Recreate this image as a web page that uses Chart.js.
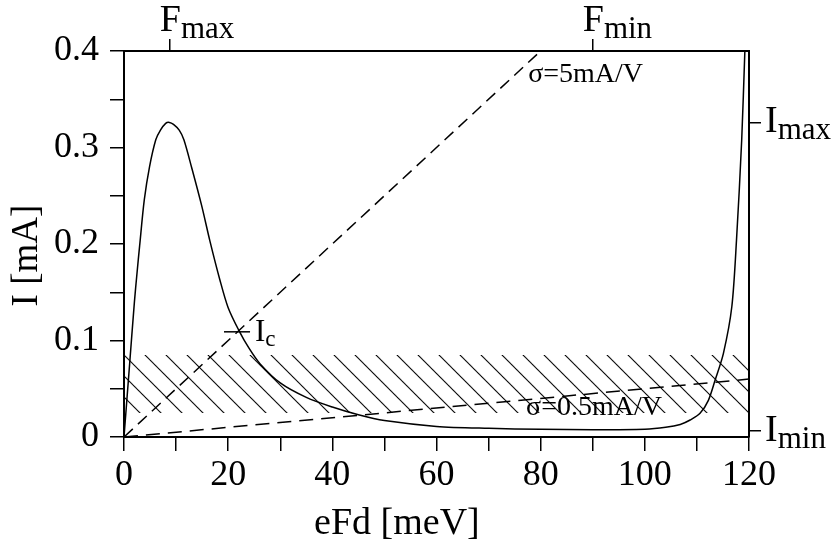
<!DOCTYPE html>
<html>
<head>
<meta charset="utf-8">
<script src="https://cdn.jsdelivr.net/npm/chart.js@4.4.0/dist/chart.umd.min.js"></script>
<style>
  html, body { margin: 0; padding: 0; background: #fff; }
  #wrap { width: 831px; height: 544px; }
</style>
</head>
<body>
<div id="wrap"><canvas id="ivChart"></canvas></div>
<script>
// I-V curve: current I [mA] against eFd [meV]
var curveX = [0, 1, 2, 2.5, 3, 3.9, 4.9, 6.1, 7, 8, 8.7, 9.5, 10.6, 11.5, 13, 14.9, 16.5, 18.4, 20, 22.1, 24, 26.1, 30, 35, 40, 45, 50, 60, 70, 80, 90, 100, 104, 106.8, 108.7, 110.6, 112.2, 113.5, 115.1, 116.7, 117.6, 118.6, 119.2, 119.5];
var curveY = [0, 0.07, 0.14, 0.17, 0.198, 0.246, 0.28, 0.308, 0.318, 0.325, 0.326, 0.324, 0.318, 0.308, 0.279, 0.24, 0.203, 0.163, 0.134, 0.11, 0.092, 0.076, 0.056, 0.041, 0.031, 0.023, 0.017, 0.011, 0.009, 0.008, 0.0075, 0.008, 0.01, 0.013, 0.0176, 0.0245, 0.038, 0.059, 0.087, 0.135, 0.204, 0.308, 0.399, 0.44];

// ohmic load lines
var sigmaHighX = [0, 80];
var sigmaHighY = [0, 0.4];
var sigmaLowX = [0, 120];
var sigmaLowY = [0, 0.06];

// hatched band
var bandX = [0, 120];
var bandTop = 0.085;
var bandBottom = 0.025;

// I_c marker
var icX = [19.2, 24.2];
var icY = [0.109, 0.109];

// axis ticks
var xTickLabels = ['0', '20', '40', '60', '80', '100', '120'];
var yTickLabels = ['0', '0.1', '0.2', '0.3', '0.4'];
var topTickValues = [8.8, 90];
var topTickLabels = [['F', 'max'], ['F', 'min']];
var rightTickValues = [0.326, 0.006];
var rightTickLabels = [['I', 'max'], ['I', 'min']];

var serif = '"Liberation Serif", "Times New Roman", serif';

function pts(xs, ys) {
    return xs.map(function (x, i) { return { x: x, y: ys[i] }; });
}

// hatch pattern, aligned to the band in a plugin
var tile = document.createElement('canvas');
var P = 21;
tile.width = P; tile.height = P;
var tctx = tile.getContext('2d');
tctx.strokeStyle = '#000';
tctx.lineWidth = 1.1;
for (var k = -1; k <= 1; k++) {
    tctx.beginPath();
    tctx.moveTo(k * P - 2, -2);
    tctx.lineTo(k * P + P + 2, P + 2);
    tctx.stroke();
}
var hatch = tctx.createPattern(tile, 'repeat');

function drawSub(ctx, main, sub, x, y, mainSize, subSize, drop) {
    ctx.font = mainSize + 'px ' + serif;
    ctx.fillText(main, x, y);
    var w = ctx.measureText(main).width;
    ctx.font = subSize + 'px ' + serif;
    ctx.fillText(sub, x + w, y + drop);
}

var textPlugin = {
    id: 'textPlugin',
    beforeDatasetsDraw: function (chart) {
        var xs = chart.scales.x, ys = chart.scales.y;
        hatch.setTransform(new DOMMatrix([1, 0, 0, 1, xs.getPixelForValue(0), ys.getPixelForValue(bandTop)]));
    },
    afterDraw: function (chart) {
        var ctx = chart.ctx;
        var area = chart.chartArea;
        var xs = chart.scales.x, ys = chart.scales.y;
        var xt = chart.scales.x2, yr = chart.scales.y2;
        ctx.save();
        ctx.fillStyle = '#000';
        ctx.textAlign = 'left';
        ctx.textBaseline = 'alphabetic';

        // axis titles
        ctx.font = '38px ' + serif;
        ctx.textAlign = 'center';
        ctx.fillText('eFd [meV]', xs.getPixelForValue(52.4), area.bottom + 97);
        ctx.save();
        ctx.font = '37px ' + serif;
        ctx.translate(area.left - 87, ys.getPixelForValue(0.188));
        ctx.rotate(-Math.PI / 2);
        ctx.fillText('I [mA]', 0, 0);
        ctx.restore();
        ctx.textAlign = 'left';

        // top axis labels
        topTickValues.forEach(function (v, i) {
            drawSub(ctx, topTickLabels[i][0], topTickLabels[i][1], xt.getPixelForValue(v) - 10, area.top - 20, 38, 31, 7);
        });
        // right axis labels
        rightTickValues.forEach(function (v, i) {
            drawSub(ctx, rightTickLabels[i][0], rightTickLabels[i][1], area.right + 16, yr.getPixelForValue(v) + 10, 38, 31, 7);
        });
        // I_c
        drawSub(ctx, 'I', 'c', xs.getPixelForValue(icX[1]) + 5, ys.getPixelForValue(icY[1]) + 9, 31, 23, 5);

        // load line labels
        ctx.font = '28px ' + serif;
        ctx.fillText('σ=5mA/V', xs.getPixelForValue(77.6), ys.getPixelForValue(0.368));
        ctx.fillText('σ=0.5mA/V', xs.getPixelForValue(77.2), ys.getPixelForValue(0.0228));
        ctx.restore();
    }
};

var axisGrid = { drawOnChartArea: false, color: '#000', lineWidth: 1.5, tickLength: 14 };
var axisBorder = { display: true, color: '#000', width: 2 };
var tickFont = { family: serif, size: 36 };

var ivChart = new Chart(document.getElementById('ivChart').getContext('2d'), {
    type: 'line',
    data: {
        datasets: [
            {
                label: 'I',
                data: pts(curveX, curveY),
                borderColor: '#000',
                borderWidth: 1.5,
                pointRadius: 0,
                tension: 0.3,
                fill: false,
                order: 1
            },
            {
                label: 'sigma 5',
                data: pts(sigmaHighX, sigmaHighY),
                borderColor: '#000',
                borderWidth: 1.5,
                borderDash: [12, 7],
                pointRadius: 0,
                fill: false,
                order: 2
            },
            {
                label: 'sigma 0.5',
                data: pts(sigmaLowX, sigmaLowY),
                borderColor: '#000',
                borderWidth: 1.5,
                borderDash: [14, 8],
                pointRadius: 0,
                fill: false,
                order: 3
            },
            {
                label: 'Ic',
                data: pts(icX, icY),
                borderColor: '#000',
                borderWidth: 1.5,
                pointRadius: 0,
                fill: false,
                order: 4
            },
            {
                label: 'band',
                data: pts(bandX, [bandTop, bandTop]),
                borderWidth: 0,
                borderColor: 'rgba(0,0,0,0)',
                backgroundColor: hatch,
                pointRadius: 0,
                fill: { value: bandBottom },
                order: 5
            }
        ]
    },
    options: {
        responsive: true,
        maintainAspectRatio: false,
        animation: false,
        layout: { padding: 0 },
        plugins: {
            legend: { display: false },
            tooltip: { enabled: false }
        },
        scales: {
            x: {
                type: 'linear',
                position: 'bottom',
                min: 0,
                max: 120,
                grid: axisGrid,
                border: axisBorder,
                ticks: {
                    stepSize: 10,
                    autoSkip: false,
                    maxRotation: 0,
                    padding: 3,
                    color: '#000',
                    font: tickFont,
                    callback: function (v) {
                        var i = Math.round(v / 10);
                        return i % 2 === 0 ? xTickLabels[i / 2] : '';
                    }
                },
                afterFit: function (s) { s.height = 107; }
            },
            x2: {
                type: 'linear',
                position: 'top',
                min: 0,
                max: 120,
                grid: { drawOnChartArea: false, color: '#000', lineWidth: 1.5, tickLength: 12 },
                border: axisBorder,
                ticks: { callback: function () { return ''; } },
                afterBuildTicks: function (s) {
                    s.ticks = topTickValues.map(function (v) { return { value: v }; });
                },
                afterFit: function (s) { s.height = 51; }
            },
            y: {
                type: 'linear',
                position: 'left',
                min: 0,
                max: 0.4,
                grid: axisGrid,
                border: axisBorder,
                ticks: {
                    stepSize: 0.05,
                    autoSkip: false,
                    padding: 11,
                    color: '#000',
                    font: tickFont,
                    callback: function (v) {
                        var i = Math.round(v * 20);
                        return i % 2 === 0 ? yTickLabels[i / 2] : '';
                    }
                },
                afterFit: function (s) { s.width = 124; }
            },
            y2: {
                type: 'linear',
                position: 'right',
                min: 0,
                max: 0.4,
                grid: { drawOnChartArea: false, color: '#000', lineWidth: 1.5, tickLength: 12 },
                border: axisBorder,
                ticks: { callback: function () { return ''; } },
                afterBuildTicks: function (s) {
                    s.ticks = rightTickValues.map(function (v) { return { value: v }; });
                },
                afterFit: function (s) { s.width = 82; }
            }
        }
    },
    plugins: [textPlugin]
});
</script>
</body>
</html>
